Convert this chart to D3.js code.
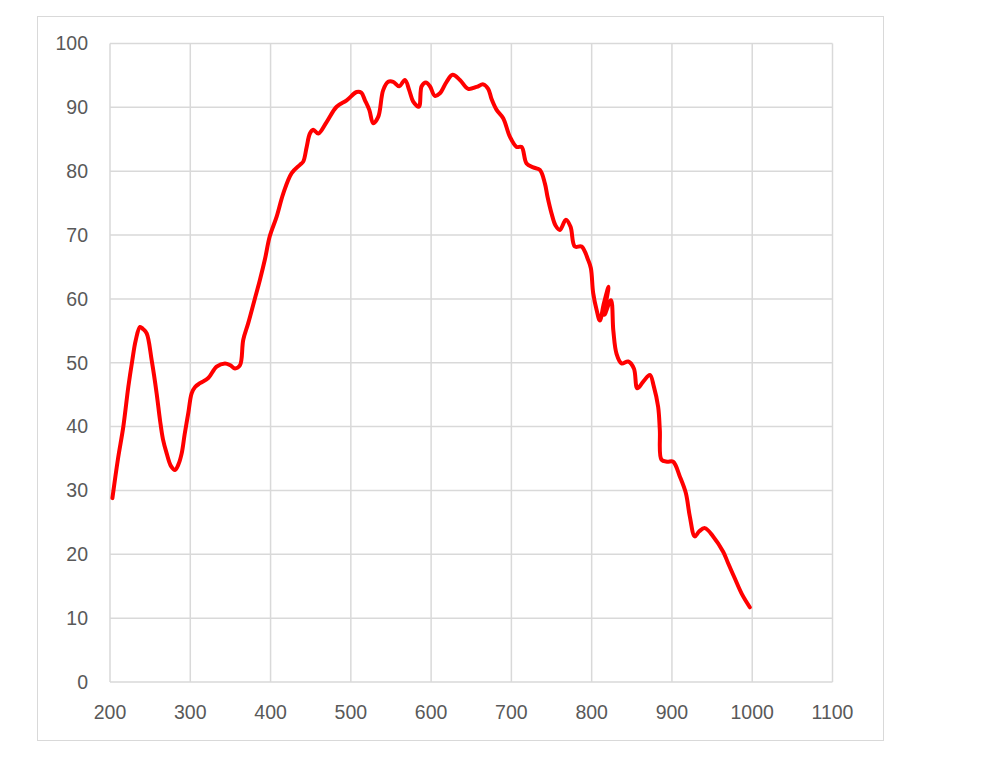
<!DOCTYPE html>
<html><head><meta charset="utf-8">
<script src="https://cdn.jsdelivr.net/npm/d3@7"></script>
<style>body{margin:0;background:#fff}</style>
</head><body>
<script>
const xTicks = [200,300,400,500,600,700,800,900,1000,1100];
const yTicks = [0,10,20,30,40,50,60,70,80,90,100];
const wavelengths = [203,210,216.6,222.8,227.8,232,237.4,241,245.7,251.9,258.1,262.3,266,270.6,276,281,285,289.3,293,297.5,301.7,306,312.1,322.4,332.8,343.2,350,355.7,361.9,366,372.2,380.6,386.8,393,399,407.6,415.8,426.3,436.6,440.7,445,449,453.2,459.4,469.8,482.3,494.8,507.2,513,517.6,523,527.9,534.1,540.3,546.6,552.8,560.3,567.4,572.7,577.7,584.8,588.2,593.5,598.5,604.7,611,619.3,626.8,635.9,646.2,656.6,664.9,671.1,675.3,681.6,689.8,698.1,706.5,712.7,718.9,727.2,735.5,741.7,745,750,755,760.4,767.9,773.7,779,787.4,795.6,799,801.9,806.1,810.2,815,821,816,824,827,831,837.2,845.5,852.6,856.8,864,872.5,877.4,882.8,884.9,887,894,901.5,909.8,917.3,922.3,928.5,934,941,951.3,963.8,970,978.4,987,997];
const values = [28.8,35,40.0,46.2,50.4,53.5,55.6,55.3,54.6,50.4,45.2,41.0,38,35.8,33.8,33.2,34,35.8,38.8,42.1,45.2,46.2,46.8,47.6,49.4,49.9,49.6,49.1,49.6,53.6,56.2,60.1,63.0,66.2,69.8,72.9,76.5,79.7,81.0,81.5,83.8,85.9,86.5,85.9,87.7,90.1,91.1,92.4,92.3,91.1,89.6,87.5,88.5,92.7,94.0,94.0,93.3,94.3,92.7,90.9,90.1,93.3,93.9,93.3,91.8,92.2,94.0,95.1,94.3,92.9,93.2,93.6,92.9,91.3,89.6,88.3,85.4,83.8,83.8,81.2,80.6,80.2,78.1,76,73.4,71.5,70.8,72.4,71.3,68.2,68.2,66.1,64.8,60.9,58.3,56.6,59.2,61.9,57.5,59.8,55,51.4,49.9,50.2,49.1,46.0,47,48.1,46.3,43.1,39.5,34.8,34.5,34.5,32.2,29.6,25.9,22.8,23.6,24.1,22.8,20.4,18.6,16.2,13.8,11.7];

const W = 1000, H = 781;
const svg = d3.select("body").append("svg").attr("width", W).attr("height", H);
svg.append("rect").attr("x", 37.5).attr("y", 16.5).attr("width", 846).attr("height", 724)
  .attr("fill", "#fff").attr("stroke", "#d9d9d9").attr("stroke-width", 1);

const x = d3.scaleLinear().domain([200, 1100]).range([110, 832.5]);
const y = d3.scaleLinear().domain([0, 100]).range([682, 43.5]);

const g = svg.append("g");
g.selectAll("line.h").data(yTicks).join("line")
  .attr("x1", x(200)).attr("x2", x(1100))
  .attr("y1", d => y(d)).attr("y2", d => y(d))
  .attr("stroke", "#d9d9d9").attr("stroke-width", 1.5);
g.selectAll("line.v").data(xTicks).join("line")
  .attr("y1", y(0)).attr("y2", y(100))
  .attr("x1", d => x(d)).attr("x2", d => x(d))
  .attr("stroke", "#d9d9d9").attr("stroke-width", 1.5);

g.selectAll("text.y").data(yTicks).join("text")
  .attr("x", 88).attr("y", d => y(d)).attr("dy", "0.35em")
  .attr("text-anchor", "end").attr("fill", "#595959")
  .attr("font-family", "Liberation Sans, Arial, sans-serif").attr("font-size", 19.5)
  .text(d => d);
g.selectAll("text.x").data(xTicks).join("text")
  .attr("x", d => x(d)).attr("y", 712).attr("dy", "0.35em")
  .attr("text-anchor", "middle").attr("fill", "#595959")
  .attr("font-family", "Liberation Sans, Arial, sans-serif").attr("font-size", 19.5)
  .text(d => d);

const pts = wavelengths.map((w, i) => [w, values[i]]);
const line = d3.line().x(d => x(d[0])).y(d => y(d[1])).curve(d3.curveCatmullRom.alpha(0.5));
svg.append("path").attr("d", line(pts)).attr("fill", "none")
  .attr("stroke", "#ff0000").attr("stroke-width", 4)
  .attr("stroke-linejoin", "round").attr("stroke-linecap", "round");
</script>
</body></html>
